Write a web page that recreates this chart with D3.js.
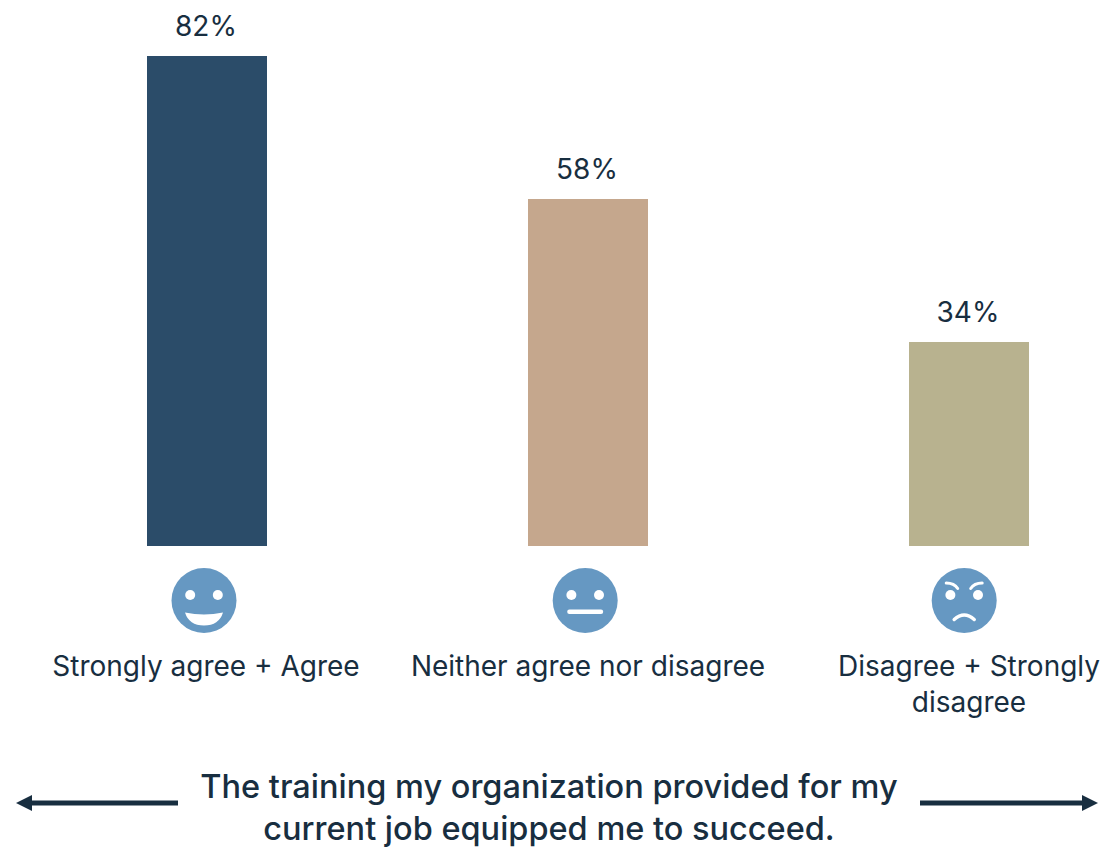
<!DOCTYPE html>
<html><head><meta charset="utf-8">
<script src="https://cdnjs.cloudflare.com/ajax/libs/d3/7.8.5/d3.min.js"></script>
<style>html,body{margin:0;padding:0;background:#fff;overflow:hidden}svg{display:block}</style>
</head><body><svg id="c" width="1107" height="848"></svg>
<script>
const categories = ["Strongly agree + Agree","Neither agree nor disagree","Disagree + Strongly disagree"];
const values = [82,58,34];
const barColors = ["#2B4C69","#C5A78D","#B8B28F"];
const faces = ["happy","neutral","angry"];
const titleLines = ["The training my organization provided for my","current job equipped me to succeed."];
const labelLines = [["Strongly agree + Agree"],["Neither agree nor disagree"],["Disagree + Strongly","disagree"]];
const ink = "#182E40", faceColor = "#6698C2";
const font = "Inter, sans-serif";

const svg = d3.select("#c");
const x = d3.scalePoint().domain(categories).range([207,969]);
const y0 = d3.scaleLinear().domain([0,82]).range([546,56]);
const y = v => Math.floor(y0(v));
const barW = 120;

svg.selectAll("rect.bar").data(categories).join("rect").attr("class","bar")
  .attr("x",d=>x(d)-barW/2).attr("width",barW)
  .attr("y",(d,i)=>y(values[i])).attr("height",(d,i)=>y(0)-y(values[i]))
  .attr("fill",(d,i)=>barColors[i]);

svg.selectAll("text.val").data(categories).join("text").attr("class","val")
  .attr("x",d=>x(d)-1).attr("y",(d,i)=>y(values[i])-20)
  .attr("text-anchor","middle").attr("font-family",font).attr("font-size",28).attr("fill",ink)
  .text((d,i)=>values[i]+"%");

categories.forEach((c,i)=>labelLines[i].forEach((l,j)=>{
  svg.append("text").attr("x",x(c)-(i===0?1:0)).attr("y",676+j*36).attr("text-anchor","middle")
    .attr("font-family",font).attr("font-size",28).attr("fill",ink).text(l);
}));

const fy=600.5, r=32.5;
const fx=[204,585.2,964.2];
const W="#fff";
faces.forEach((f,i)=>{
  const g=svg.append("g").attr("transform",`translate(${fx[i]},${fy})`);
  g.append("circle").attr("r",r).attr("fill",faceColor);
  [-13.8,13.8].forEach(e=>g.append("circle").attr("cx",e).attr("cy",-5.5).attr("r",5).attr("fill",W));
  if(f==="happy") g.append("path").attr("d","M-19,12 Q0,16 19,12 Q15,25 0,25 Q-15,25 -19,12Z").attr("fill",W);
  if(f==="neutral") g.append("rect").attr("x",-18).attr("y",9).attr("width",36).attr("height",4.5).attr("rx",2.2).attr("fill",W);
  if(f==="angry"){
    g.append("path").attr("d","M-10,19 Q0,10 10,19").attr("fill","none").attr("stroke",W).attr("stroke-width",3.5).attr("stroke-linecap","round");
    g.append("path").attr("d","M-18,-17.5 Q-10,-17.5 -6.5,-12").attr("fill","none").attr("stroke",W).attr("stroke-width",3).attr("stroke-linecap","round");
    g.append("path").attr("d","M18,-17.5 Q10,-17.5 6.5,-12").attr("fill","none").attr("stroke",W).attr("stroke-width",3).attr("stroke-linecap","round");
  }
});

titleLines.forEach((l,j)=>{
  svg.append("text").attr("x",549).attr("y",798+j*42).attr("text-anchor","middle")
    .attr("font-family",font).attr("font-size",32.5).attr("font-weight",500).attr("fill",ink).text(l);
});

const ay=803;
svg.append("line").attr("x1",178).attr("x2",30).attr("y1",ay).attr("y2",ay).attr("stroke",ink).attr("stroke-width",5);
svg.append("path").attr("d",`M16,${ay} L32,${ay-8} L32,${ay+8}Z`).attr("fill",ink);
svg.append("line").attr("x1",920).attr("x2",1084).attr("y1",ay).attr("y2",ay).attr("stroke",ink).attr("stroke-width",5);
svg.append("path").attr("d",`M1098,${ay} L1082,${ay-8} L1082,${ay+8}Z`).attr("fill",ink);
</script></body></html>
